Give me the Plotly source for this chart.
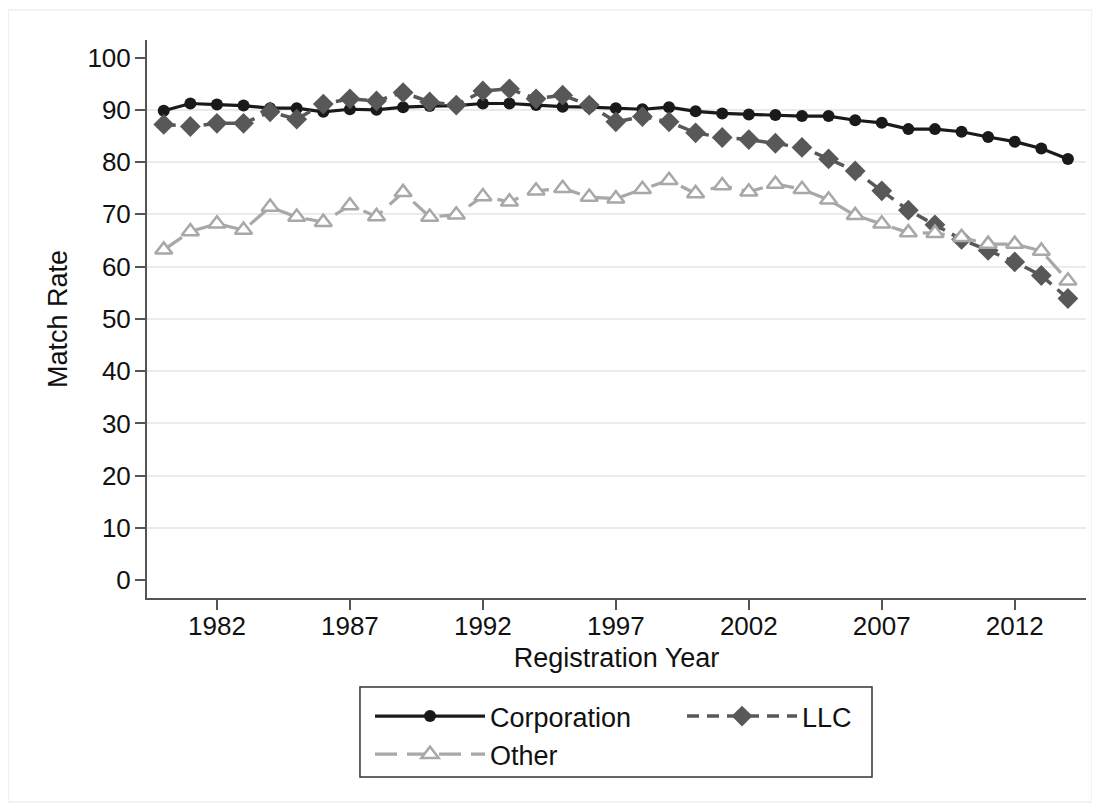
import plotly.graph_objects as go

years = list(range(1980, 2015))

corporation = [89.8, 91.2, 91.0, 90.8, 90.3, 90.3, 89.6, 90.1, 90.0, 90.5,
               90.7, 90.8, 91.2, 91.2, 90.9, 90.6, 90.5, 90.3, 90.1, 90.5,
               89.7, 89.3, 89.1, 89.0, 88.8, 88.8, 88.0, 87.5, 86.3, 86.3,
               85.8, 84.8, 83.9, 82.6, 80.6]

llc = [87.2, 86.8, 87.4, 87.4, 89.6, 88.2, 91.1, 92.1, 91.7, 93.3,
       91.5, 90.9, 93.6, 94.0, 92.1, 92.8, 90.9, 87.7, 88.7, 87.7,
       85.6, 84.7, 84.3, 83.6, 82.8, 80.6, 78.3, 74.5, 70.8, 68.0,
       65.2, 63.1, 60.9, 58.3, 53.9]

other = [63.2, 66.7, 68.2, 67.0, 71.4, 69.5, 68.5, 71.7, 69.6, 74.2,
         69.5, 69.9, 73.4, 72.4, 74.5, 75.0, 73.3, 73.0, 74.8, 76.5,
         74.0, 75.5, 74.3, 75.8, 74.8, 72.8, 69.8, 68.2, 66.5, 66.4,
         65.6, 64.3, 64.3, 63.0, 57.3]

x_ticks = [1982, 1987, 1992, 1997, 2002, 2007, 2012]
y_ticks = [0, 10, 20, 30, 40, 50, 60, 70, 80, 90, 100]
grid_ticks = [10, 20, 30, 40, 50, 60, 70, 80, 90]

FONT = "Liberation Sans, Arial, Helvetica, sans-serif"
AX = "#555555"

fig = go.Figure()
fig.add_trace(go.Scatter(
    x=years, y=corporation, name="Corporation", mode="lines+markers",
    line=dict(color="#1a1a1a", width=3.2),
    marker=dict(symbol="circle", size=12, color="#1a1a1a"),
    legendgroup="a"))
fig.add_trace(go.Scatter(
    x=years, y=llc, name="LLC", mode="lines+markers",
    line=dict(color="#585858", width=3.5, dash="12px,8px"),
    marker=dict(symbol="diamond", size=16, color="#585858"),
    legendgroup="b"))
fig.add_trace(go.Scatter(
    x=years, y=other, name="Other", mode="lines+markers",
    line=dict(color="#a8a8a8", width=3.2, dash="22px,10px"),
    marker=dict(symbol="triangle-up", size=15, color="white",
                line=dict(color="#a8a8a8", width=2.5)),
    legendgroup="a"))

# invisible trace on overlay axis to host gridlines
fig.add_trace(go.Scatter(x=[years[0]], y=[corporation[0]], yaxis="y2",
                         mode="markers", marker=dict(opacity=0),
                         showlegend=False, hoverinfo="skip"))

yr = [-3.4, 103.35]
fig.update_layout(
    width=1092, height=804,
    paper_bgcolor="white", plot_bgcolor="white",
    margin=dict(l=139, r=14, t=32, b=214, autoexpand=False),
    font=dict(family=FONT, size=26, color="#111111"),
    xaxis=dict(range=[1979.37, 2014.68], tickvals=x_ticks,
               showgrid=False, zeroline=False, automargin=False,
               showline=True, linecolor=AX, linewidth=2,
               ticks="outside", ticklen=10, tickwidth=2, tickcolor=AX,
               tickfont=dict(size=26), ticklabelstandoff=-6,
               title=dict(text="Registration Year", font=dict(size=27), standoff=8)),
    yaxis=dict(range=yr, tickvals=y_ticks, showgrid=False, zeroline=False,
               automargin=False,
               showline=True, linecolor=AX, linewidth=2,
               ticks="outside", ticklen=10, tickwidth=2, tickcolor=AX,
               tickfont=dict(size=26), ticklabelstandoff=-1,
               title=dict(text="Match Rate", font=dict(size=27), standoff=12)),
    yaxis2=dict(range=yr, overlaying="y", tickvals=grid_ticks,
                showgrid=True, gridcolor="#ebebeb", gridwidth=2,
                showticklabels=False, showline=False, zeroline=False,
                ticks="", automargin=False),
    showlegend=True,
    legend=dict(orientation="h", traceorder="grouped",
                x=0.2375, xanchor="left", y=-0.1685, yanchor="top",
                borderwidth=0, bgcolor="rgba(0,0,0,0)",
                itemwidth=110, entrywidth=187, tracegroupgap=0,
                font=dict(size=27)),
    shapes=[dict(type="rect", xref="paper", yref="paper",
                 x0=-0.148, x1=1.0064, y0=-0.3656, y1=1.0538,
                 line=dict(color="#eeeeee", width=1.5), layer="below"),
            dict(type="rect", xref="paper", yref="paper",
                 x0=0.2268, x1=0.7721, y0=-0.3208, y1=-0.1595,
                 line=dict(color="#333333", width=1.5), fillcolor="white",
                 layer="below")],
)

fig.write_html("out.html")
